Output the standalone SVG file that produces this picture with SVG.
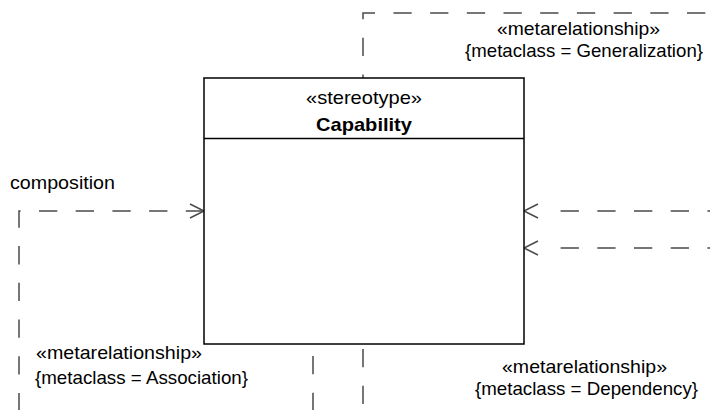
<svg xmlns="http://www.w3.org/2000/svg" width="710" height="410" viewBox="0 0 710 410">
  <style>
    .bg { fill: #ffffff; }
    .box { fill: #ffffff; stroke: #000000; stroke-width: 1.5; }
    .div { stroke: #000000; stroke-width: 1.5; fill: none; }
    .dash { fill: none; stroke: #4a4a4a; stroke-width: 1.5; stroke-dasharray: 18.3 18.4; }
    .head { fill: none; stroke: #4a4a4a; stroke-width: 1.5; stroke-linejoin: miter; }
    .t { font-family: "Liberation Sans", Arial, sans-serif; font-size: 19px; fill: #000000; }
    .b { font-weight: bold; }
  </style>
  <rect class="bg" x="0" y="0" width="710" height="410"/>

  <g id="connectors">
    <g id="generalization">
      <path class="dash" d="M363,78 V13 H710" stroke-dashoffset="14.7"/>
      <text class="t" x="497" y="35" textLength="163" lengthAdjust="spacingAndGlyphs">«metarelationship»</text>
      <text class="t" x="465" y="57" textLength="238" lengthAdjust="spacingAndGlyphs">{metaclass = Generalization}</text>
    </g>
    <g id="composition">
      <path class="dash" d="M19,410 V211 H204" stroke-dashoffset="1.2"/>
      <path class="head" d="M190,204 L204,211 L190,218"/>
      <text class="t" x="10" y="189" textLength="105" lengthAdjust="spacingAndGlyphs">composition</text>
      <text class="t" x="36" y="359" textLength="166" lengthAdjust="spacingAndGlyphs">«metarelationship»</text>
      <text class="t" x="35" y="384" textLength="213" lengthAdjust="spacingAndGlyphs">{metaclass = Association}</text>
    </g>
    <g id="incoming-1">
      <path class="dash" d="M710,211 H543" stroke-dashoffset="15.7"/>
      <path class="head" d="M538,204 L524,211 L538,218"/>
    </g>
    <g id="incoming-2">
      <path class="dash" d="M710,248 H543" stroke-dashoffset="15.7"/>
      <path class="head" d="M538,241 L524,248 L538,255"/>
    </g>
    <g id="bottom-1">
      <path class="dash" d="M313,344 V410" stroke-dashoffset="24.7"/>
    </g>
    <g id="dependency">
      <path class="dash" d="M363,344 V410" stroke-dashoffset="31.7"/>
      <text class="t" x="502" y="373" textLength="165" lengthAdjust="spacingAndGlyphs">«metarelationship»</text>
      <text class="t" x="475" y="395" textLength="223" lengthAdjust="spacingAndGlyphs">{metaclass = Dependency}</text>
    </g>
  </g>

  <g id="capability">
    <rect class="box" x="204" y="78" width="320" height="266"/>
    <line class="div" x1="204" y1="138.5" x2="524" y2="138.5"/>
    <text class="t" x="306" y="104" textLength="116" lengthAdjust="spacingAndGlyphs">«stereotype»</text>
    <text class="t b" x="316" y="131" textLength="96" lengthAdjust="spacingAndGlyphs">Capability</text>
  </g>
</svg>
